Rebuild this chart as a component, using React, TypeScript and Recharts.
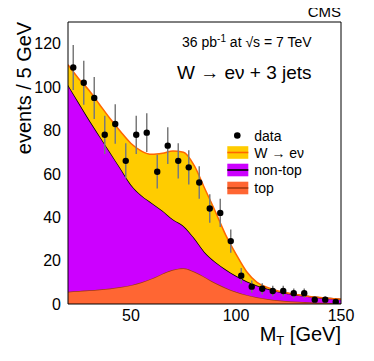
import { ComposedChart, Area, Scatter, ErrorBar, XAxis, YAxis, Legend } from 'recharts';

// model curves, sampled every 5 GeV
const massBins = [20, 25, 30, 35, 40, 45, 50, 55, 60, 65, 70, 75, 80, 85, 90, 95, 100, 105, 110, 115, 120, 125, 130, 135, 140, 145, 150];
const topEvents = [5.7, 6.0, 6.3, 6.7, 7.2, 7.8, 8.7, 10, 11.8, 14, 15.8, 16.5, 15, 12.5, 9.8, 7.5, 5.6, 4.2, 3.1, 2.3, 1.7, 1.3, 1.0, 0.8, 0.6, 0.5, 0.4];
const nonTopEvents = [95.3, 87, 78.7, 70.8, 62.8, 54.7, 46.3, 40, 34.7, 29, 23.2, 19.5, 15.5, 11.5, 9.7, 8.5, 7.4, 6.3, 5.4, 4.7, 4.0, 3.5, 3.0, 2.6, 2.3, 2.0, 1.7];
const wEnuEvents = [9.3, 11, 13.5, 14.5, 15.5, 17, 19, 20.5, 22.5, 26.5, 31.5, 34, 33.5, 29.5, 23.5, 16, 10, 4.5, 1.5, 0.6, 0.3, 0.2, 0.2, 0.1, 0.1, 0.05, 0.05];

// data points (bin centres)
const dataX = [22.5, 27.5, 32.5, 37.5, 42.5, 47.5, 52.5, 57.5, 62.5, 67.5, 72.5, 77.5, 82.5, 87.5, 92.5, 97.5, 102.5, 107.5, 112.5, 117.5, 122.5, 127.5, 132.5, 137.5, 142.5, 147.5];
const dataY = [109, 102, 95, 78, 83, 66, 78, 79, 61, 73, 66, 63, 56, 44, 42, 29, 13, 8, 7, 6, 6, 5, 5, 2, 2, 1];
const dataErr = [10.4, 10.1, 9.7, 8.8, 9.1, 8.1, 8.8, 8.9, 7.8, 8.5, 8.1, 7.9, 7.5, 6.6, 6.5, 5.4, 3.6, 2.8, 2.6, 2.4, 2.4, 2.2, 2.2, 1.4, 1.4, 1.0];

const xTicks = [50, 100, 150];
const xMinorTicks = [30, 40, 60, 70, 80, 90, 110, 120, 130, 140];
const yTicks = [0, 20, 40, 60, 80, 100, 120];
const yMinorTicks = [5, 10, 15, 25, 30, 35, 45, 50, 55, 65, 70, 75, 85, 90, 95, 105, 110, 115, 125];

const FONT = '"Liberation Sans", Arial, Helvetica, sans-serif';
const X_DOMAIN = [20, 150];
const Y_DOMAIN = [0, 130];

const COLORS = {
  wFill: '#ffcc00',
  wLine: '#ff6600',
  nonTopFill: '#cc00ff',
  nonTopLine: '#000000',
  topFill: '#ff6633',
  topLine: '#a33a10',
};

const curveData = massBins.map((x, i) => ({
  x,
  top: topEvents[i],
  nonTop: nonTopEvents[i],
  wEnu: wEnuEvents[i],
}));

const points = dataX.map((x, i) => ({ x, y: dataY[i], err: dataErr[i] }));

const legendRows = [
  { label: 'data', kind: 'dot' },
  { label: 'W \u2192 e\u03bd', fill: COLORS.wFill, line: COLORS.wLine },
  { label: 'non-top', fill: COLORS.nonTopFill, line: COLORS.nonTopLine },
  { label: 'top', fill: COLORS.topFill, line: COLORS.topLine },
];

function LegendBox() {
  const rowY = [12.5, 29.5, 47, 65];
  return (
    <svg width={120} height={80} style={{ display: 'block' }}>
      {legendRows.map((row, i) => (
        <g key={row.label}>
          {row.kind === 'dot' ? (
            <circle cx={11.3} cy={rowY[i]} r={3.3} fill="#000" />
          ) : (
            <>
              <rect x={1.3} y={rowY[i] - 6.3} width={21} height={12.6} fill={row.fill} />
              <line x1={1.3} x2={22.3} y1={rowY[i]} y2={rowY[i]} stroke={row.line} strokeWidth={1.6} />
            </>
          )}
          <text x={28.3} y={rowY[i] + 5} fontSize={14} fontFamily={FONT} fill="#000">
            {row.label}
          </text>
        </g>
      ))}
    </svg>
  );
}

// inward ROOT-style ticks on all four sides
const tickAxes = () => [
  <XAxis key="xbm" xAxisId="xbm" type="number" domain={X_DOMAIN} ticks={xMinorTicks} mirror tick={false} tickSize={4} axisLine={false} stroke="#000" allowDataOverflow />,
  <XAxis key="xbM" xAxisId="xbM" type="number" domain={X_DOMAIN} ticks={xTicks} mirror tick={false} tickSize={8} axisLine={false} stroke="#000" allowDataOverflow />,
  <XAxis key="xtm" xAxisId="xtm" orientation="top" type="number" domain={X_DOMAIN} ticks={xMinorTicks} mirror tick={false} tickSize={4} axisLine={false} stroke="#000" allowDataOverflow />,
  <XAxis key="xtM" xAxisId="xtM" orientation="top" type="number" domain={X_DOMAIN} ticks={xTicks} mirror tick={false} tickSize={8} stroke="#000" allowDataOverflow />,
  <YAxis key="ylm" yAxisId="ylm" type="number" domain={Y_DOMAIN} ticks={yMinorTicks} mirror tick={false} tickSize={3.5} axisLine={false} stroke="#000" allowDataOverflow />,
  <YAxis key="ylM" yAxisId="ylM" type="number" domain={Y_DOMAIN} ticks={yTicks} mirror tick={false} tickSize={7} axisLine={false} stroke="#000" allowDataOverflow />,
  <YAxis key="yrm" yAxisId="yrm" orientation="right" type="number" domain={Y_DOMAIN} ticks={yMinorTicks} mirror tick={false} tickSize={3.5} axisLine={false} stroke="#000" allowDataOverflow />,
  <YAxis key="yrM" yAxisId="yrM" orientation="right" type="number" domain={Y_DOMAIN} ticks={yTicks} mirror tick={false} tickSize={7} stroke="#000" allowDataOverflow />,
];

export default function App() {
  return (
    <div style={{ position: 'relative', width: 366, height: 340, fontFamily: FONT }}>
      <ComposedChart
        width={366}
        height={340}
        data={curveData}
        margin={{ top: 14, right: 33, bottom: 14, left: 10 }}
      >
        <XAxis
          dataKey="x"
          type="number"
          domain={X_DOMAIN}
          ticks={xTicks}
          tickLine={false}
          tickSize={0}
          tickMargin={6}
          height={30}
          axisLine={{ stroke: '#000' }}
          tick={{ fill: '#000', fontSize: 16, fontFamily: FONT }}
          allowDataOverflow
        />
        <YAxis
          type="number"
          domain={Y_DOMAIN}
          ticks={yTicks}
          tickLine={false}
          tickSize={0}
          tickMargin={7}
          width={50}
          axisLine={{ stroke: '#000' }}
          tick={{ fill: '#000', fontSize: 16, fontFamily: FONT }}
          allowDataOverflow
        />
        {tickAxes()}
        <Area type="monotone" dataKey="top" stackId="mc" fill={COLORS.topFill} fillOpacity={1} stroke={COLORS.topLine} strokeWidth={1.5} isAnimationActive={false} />
        <Area type="monotone" dataKey="nonTop" stackId="mc" fill={COLORS.nonTopFill} fillOpacity={1} stroke={COLORS.nonTopLine} strokeWidth={1.5} isAnimationActive={false} />
        <Area type="monotone" dataKey="wEnu" stackId="mc" fill={COLORS.wFill} fillOpacity={1} stroke={COLORS.wLine} strokeWidth={1.5} isAnimationActive={false} />
        <Scatter
          data={points}
          dataKey="y"
          fill="#000"
          isAnimationActive={false}
          shape={(p: any) => <circle cx={p.cx} cy={p.cy} r={3.2} fill="#000" />}
        >
          <ErrorBar dataKey="err" direction="y" width={0} stroke="#7a7a7a" strokeWidth={1.5} isAnimationActive={false} />
        </Scatter>
        <Legend
          layout="vertical"
          align="center"
          verticalAlign="middle"
          wrapperStyle={{ left: 218, top: 115, width: 120, height: 80 }}
          content={() => <LegendBox />}
        />
      </ComposedChart>
      {/* overlay starts 8px higher so the CMS tag is not clipped */}
      <svg
        width={366}
        height={348}
        style={{ position: 'absolute', left: 0, top: -8, pointerEvents: 'none' }}
        fontFamily={FONT}
      >
        <g transform="translate(0, 8)">
          <text x={333} y={9} textAnchor="end" fontSize={15} fill="#000">CMS</text>
          <text x={174} y={38.5} fontSize={14} fill="#000">
            36 pb
            <tspan fontSize={10} dy={-5}>-1</tspan>
            <tspan dy={5}>{'  at \u221as = 7 TeV'}</tspan>
          </text>
          <text x={169} y={71} fontSize={19} fill="#000">{'W \u2192 e\u03bd + 3 jets'}</text>
          <text transform="translate(22.5, 80) rotate(-90)" textAnchor="middle" fontSize={20} fill="#000">
            events / 5 GeV
          </text>
          <text x={333} y={333} textAnchor="end" fontSize={20} fill="#000">
            M
            <tspan fontSize={13} dy={4}>T</tspan>
            <tspan dy={-4}> [GeV]</tspan>
          </text>
        </g>
      </svg>
    </div>
  );
}
